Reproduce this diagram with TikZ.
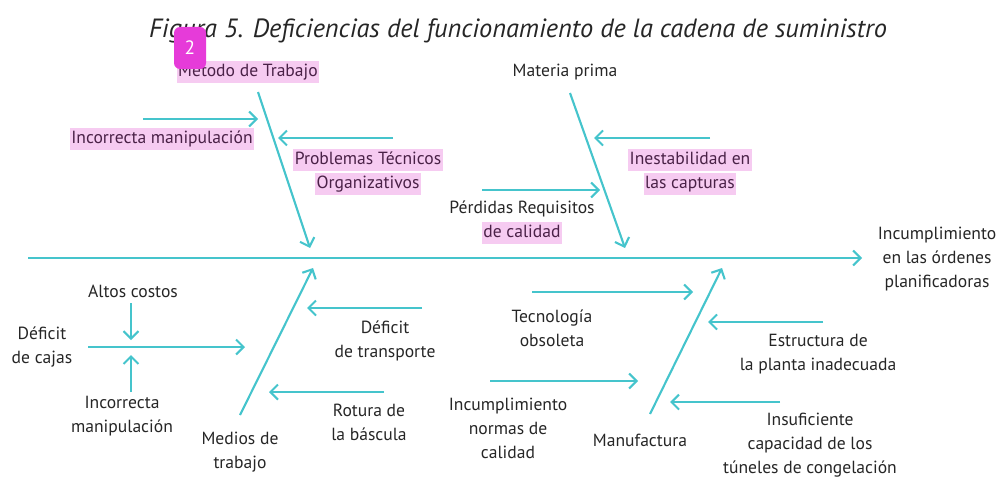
\documentclass[tikz,border=0pt]{standalone}
\usepackage{fontspec}
\setmainfont{PT Sans}
\usetikzlibrary{arrows.meta, positioning}

\definecolor{bonecyan}{HTML}{45C4CC}
\definecolor{hlpink}{HTML}{F6CBF1}
\definecolor{hltext}{HTML}{4A2147}
\definecolor{badgemag}{HTML}{E63BD9}
% highlighted line of text
\newcommand{\hlt}[1]{{\setlength{\fboxsep}{0.8pt}\colorbox{hlpink}{\color{hltext}\vrule height 8pt depth 2.8pt width 0pt #1}}}

\begin{document}
\begin{tikzpicture}[
        x=0.2mm, y=-0.2mm,
        % styles
        bone/.style={draw=bonecyan, line width=1.2pt, -{Straight Barb[length=1.5mm, width=3mm, line width=1.2pt]}},
        lbl/.style={inner sep=0pt, align=center, text=black!85, font=\fontsize{10}{13.7}\selectfont},
        title/.style={inner sep=0pt, font=\fontsize{15}{18}\selectfont\itshape, text=black!85},
        badge/.style={rectangle, rounded corners=1.2mm, fill=badgemag, text=white, minimum width=6.4mm, minimum height=8.4mm, font=\fontsize{11}{13}\selectfont} ]

    \useasboundingbox (0,0) rectangle (999,477);

    \node (title) [title] at (518,31) {Figura 5. Deficiencias del funcionamiento de la cadena de suministro};

    % --- SPINE ---
    \coordinate (sp0) at (28,258);
    \coordinate (sp1) at (862,258);
    \draw [bone] (sp0) -- (sp1);
    \node (effect) [lbl] at (937,259) {Incumplimiento\\en las órdenes\\planificadoras};

    % --- TOP LEFT: Metodo de trabajo ---
    \node (metodo) [lbl] at (248,72) {\hlt{Método de Trabajo}};
    \coordinate (mt0) at (258,92);
    \coordinate (mt1) at (310,248);
    \draw [bone] (mt0) -- (mt1);
    \coordinate (im0) at (143,119);
    \coordinate (im1) at (258,119);
    \draw [bone] (im0) -- (im1);
    \node (incman) [lbl] at (162,139) {\hlt{Incorrecta manipulación}};
    \coordinate (pt0) at (393,138);
    \coordinate (pt1) at (278,138);
    \draw [bone] (pt0) -- (pt1);
    \node (probtec) [lbl] at (368,172) {\hlt{Problemas Técnicos}\\\hlt{Organizativos}};

    % --- TOP RIGHT: Materia prima ---
    \node (materia) [lbl] at (565,72) {Materia prima};
    \coordinate (mp0) at (570,93);
    \coordinate (mp1) at (625,248);
    \draw [bone] (mp0) -- (mp1);
    \coordinate (ie0) at (710,138);
    \coordinate (ie1) at (594,138);
    \draw [bone] (ie0) -- (ie1);
    \node (inest) [lbl] at (690,172) {\hlt{Inestabilidad en}\\\hlt{las capturas}};
    \coordinate (pr0) at (482,190);
    \coordinate (pr1) at (600,190);
    \draw [bone] (pr0) -- (pr1);
    \node (perdidas) [lbl] at (522,222) {Pérdidas Requisitos\\\hlt{de calidad}};

    % --- BOTTOM LEFT: Medios de trabajo ---
    \node (medios) [lbl] at (240,452) {Medios de\\trabajo};
    \coordinate (md0) at (240,415);
    \coordinate (md1) at (313,268);
    \draw [bone] (md0) -- (md1);
    \coordinate (dt0) at (422,308);
    \coordinate (dt1) at (307,308);
    \draw [bone] (dt0) -- (dt1);
    \node (deftrans) [lbl] at (385,341) {Déficit\\de transporte};
    \coordinate (rb0) at (384,392);
    \coordinate (rb1) at (269,392);
    \draw [bone] (rb0) -- (rb1);
    \node (rotura) [lbl] at (369,422) {Rotura de\\la báscula};
    \node (defcajas) [lbl] at (42,347) {Déficit\\de cajas};
    \coordinate (dc0) at (88,347);
    \coordinate (dc1) at (245,347);
    \draw [bone] (dc0) -- (dc1);
    \node (altos) [lbl] at (133,291) {Altos costos};
    \coordinate (ac0) at (131,303);
    \coordinate (ac1) at (131,340);
    \draw [bone] (ac0) -- (ac1);
    \node (incman2) [lbl] at (122,416) {Incorrecta\\manipulación};
    \coordinate (iq0) at (131,392);
    \coordinate (iq1) at (131,355);
    \draw [bone] (iq0) -- (iq1);

    % --- BOTTOM RIGHT: Manufactura ---
    \node (manuf) [lbl] at (640,440) {Manufactura};
    \coordinate (mf0) at (650,414);
    \coordinate (mf1) at (722,268);
    \draw [bone] (mf0) -- (mf1);
    \coordinate (to0) at (532,292);
    \coordinate (to1) at (693,292);
    \draw [bone] (to0) -- (to1);
    \node (tecno) [lbl] at (552,328) {Tecnología\\obsoleta};
    \coordinate (ep0) at (823,322);
    \coordinate (ep1) at (708,322);
    \draw [bone] (ep0) -- (ep1);
    \node (estruc) [lbl] at (818,354) {Estructura de\\la planta inadecuada};
    \coordinate (nc0) at (490,381);
    \coordinate (nc1) at (638,381);
    \draw [bone] (nc0) -- (nc1);
    \node (normas) [lbl] at (508,428) {Incumplimiento\\normas de\\calidad};
    \coordinate (tc0) at (780,402);
    \coordinate (tc1) at (670,402);
    \draw [bone] (tc0) -- (tc1);
    \node (tuneles) [lbl] at (810,445) {Insuficiente\\capacidad de los\\túneles de congelación};

    % marker
    \node (badge) [badge] at (190,48) {2};

\end{tikzpicture}
\end{document}
